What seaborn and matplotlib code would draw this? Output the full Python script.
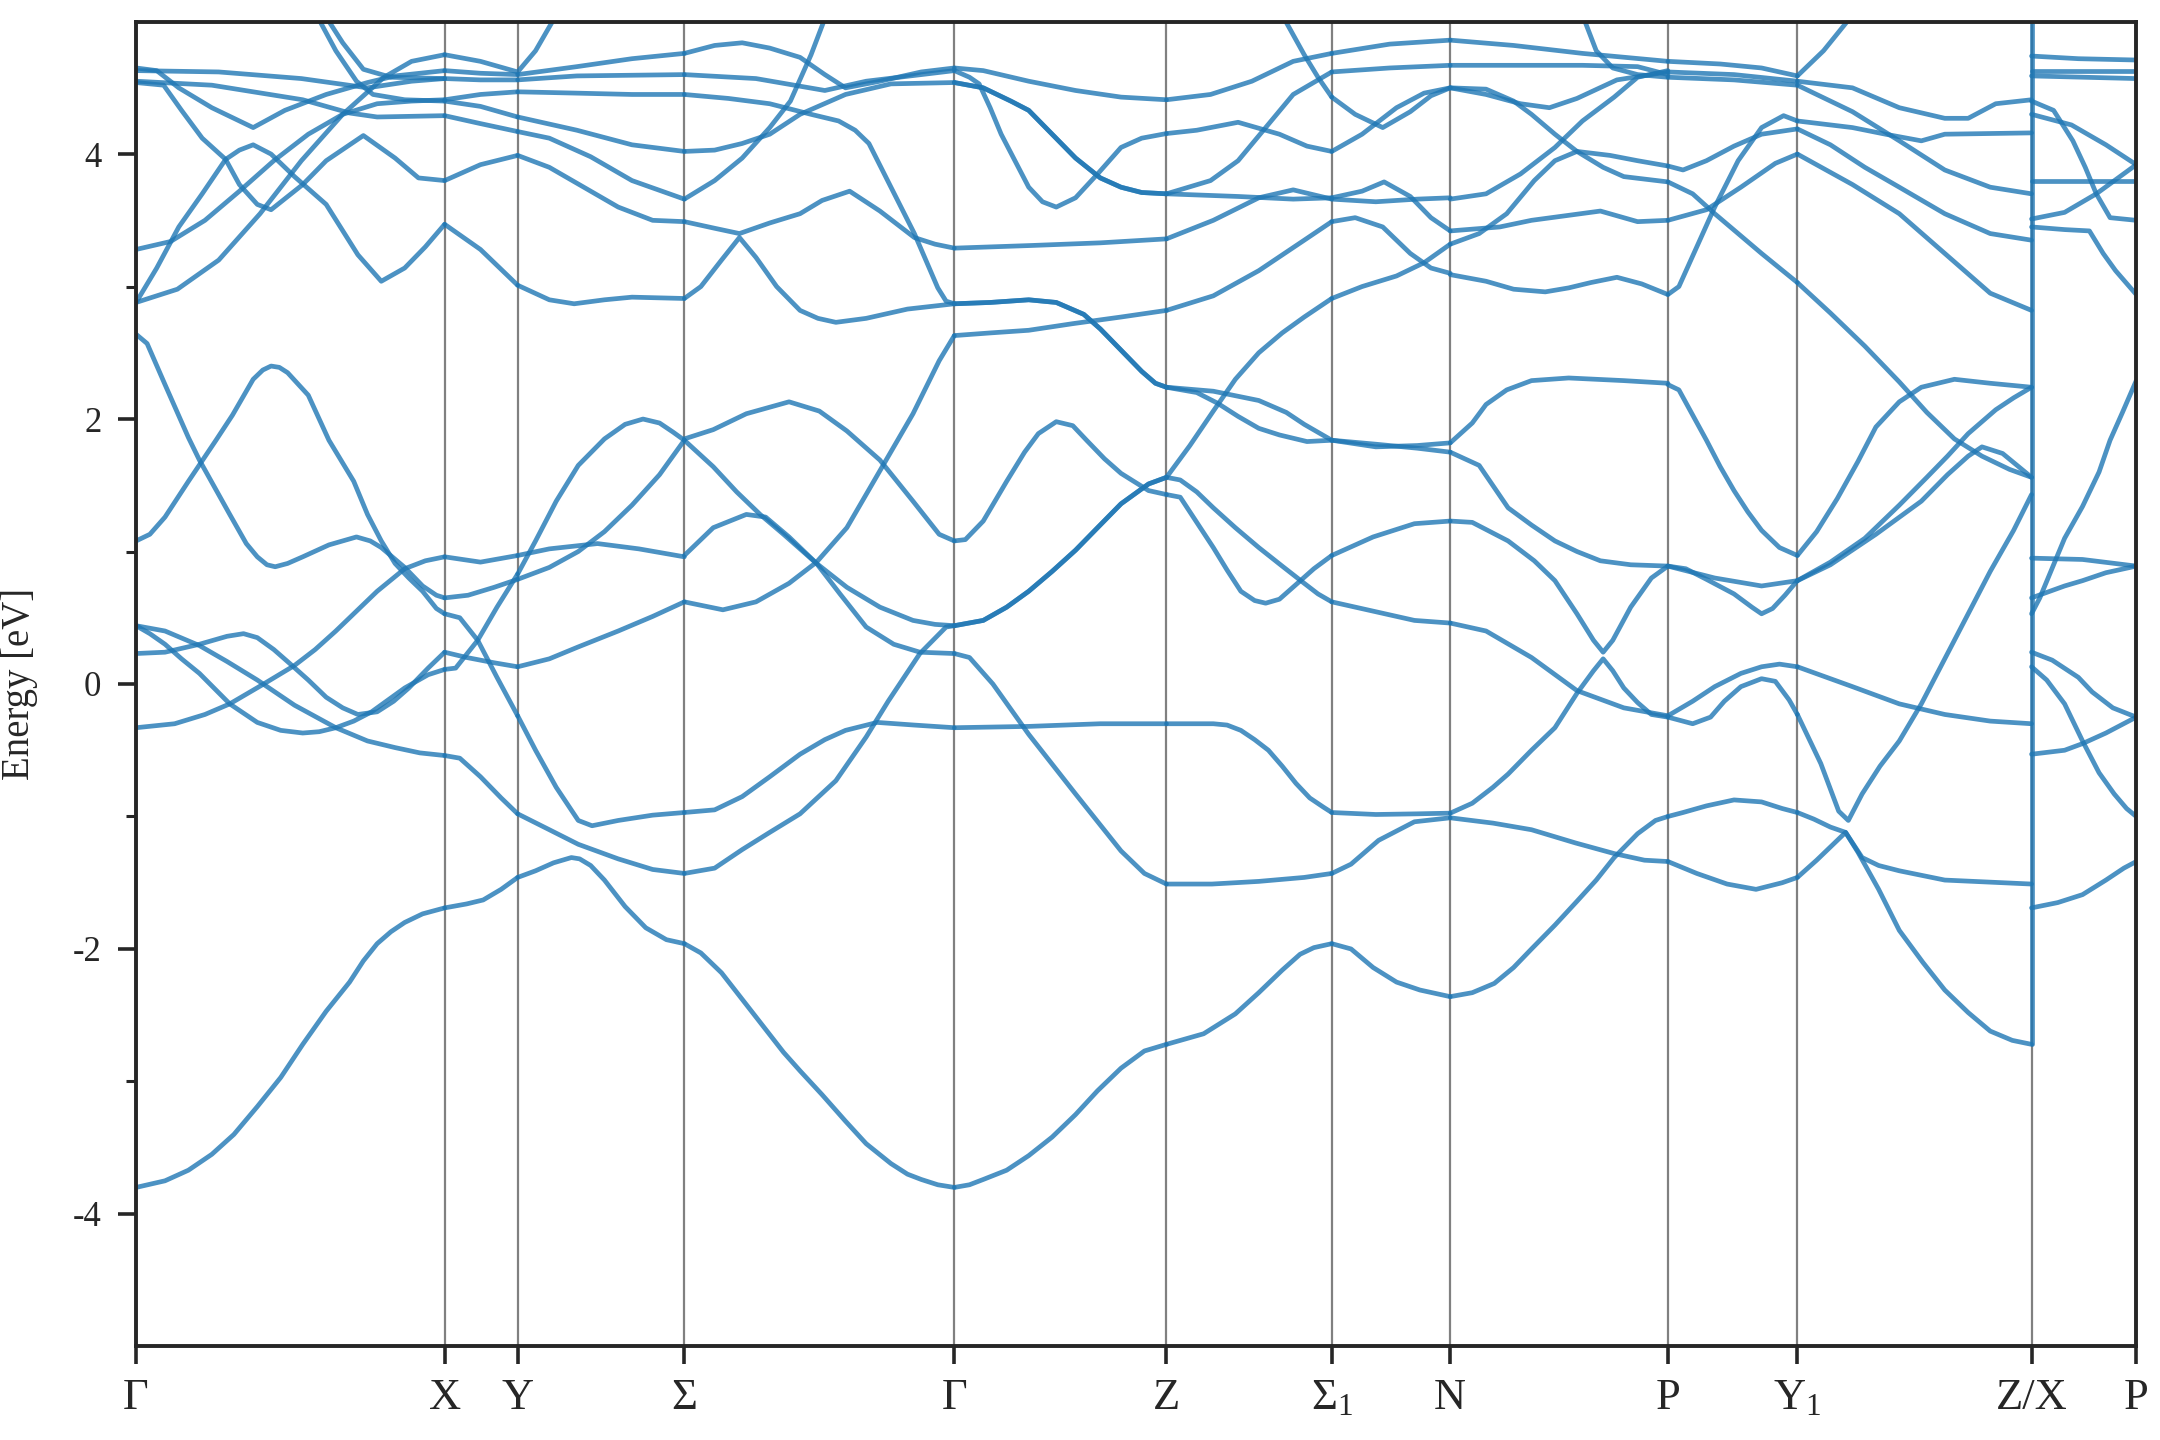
import pandas as pd
import seaborn as sns
import matplotlib.pyplot as plt

sns.set_style('ticks')
plt.rcParams['font.family'] = ['Liberation Serif', 'DejaVu Serif']
plt.rcParams['mathtext.fontset'] = 'stix'
plt.rcParams['axes.unicode_minus'] = False

# high symmetry points along the path (path length, arbitrary units)
kpoints = [0, 224, 277, 398, 594, 748, 868, 954, 1112, 1206, 1376, 1452]
klabels = ['Γ', 'X', 'Y', 'Σ', 'Γ', 'Z', r'$\mathregular{Σ_1}$', 'N', 'P',
           r'$\mathregular{Y_1}$', 'Z/X', 'P']

# bands, one list of (k, E[eV]) per line and path segment
seg_G_X = [
    [(0, -3.80), (21, -3.75), (38, -3.67), (55, -3.55), (71, -3.40), (88, -3.19), (105, -2.97), (121, -2.72), (138, -2.47), (155, -2.25), (165, -2.09), (175, -1.96), (185, -1.87), (195, -1.80), (208, -1.735), (224, -1.69)],
    [(0, -0.33), (28, -0.30), (50, -0.23), (68, -0.15), (91, -0.01), (115, 0.14), (130, 0.26), (145, 0.40), (160, 0.55), (175, 0.70), (195, 0.87), (210, 0.93), (224, 0.96)],
    [(0, 0.23), (21, 0.24), (46, 0.30), (66, 0.36), (78, 0.38), (88, 0.35), (100, 0.26), (111, 0.16), (125, 0.03), (138, -0.10), (150, -0.18), (161, -0.23), (175, -0.21), (187, -0.13), (198, -0.03), (212, 0.12), (224, 0.24)],
    [(0, 0.44), (21, 0.40), (46, 0.29), (66, 0.17), (88, 0.03), (115, -0.16), (145, -0.33), (168, -0.43), (188, -0.48), (206, -0.52), (224, -0.54)],
    [(0, 0.44), (10, 0.38), (21, 0.30), (33, 0.19), (46, 0.08), (68, -0.15), (88, -0.29), (105, -0.35), (121, -0.37), (133, -0.36), (145, -0.33), (158, -0.28), (171, -0.21), (183, -0.12), (195, -0.03), (212, 0.07), (224, 0.11)],
    [(0, 1.08), (10, 1.13), (21, 1.26), (38, 1.53), (58, 1.84), (70, 2.03), (85, 2.30), (92, 2.37), (98, 2.40), (104, 2.39), (110, 2.35), (125, 2.18), (140, 1.84), (158, 1.53), (168, 1.28), (178, 1.08), (188, 0.91), (198, 0.80), (208, 0.70), (218, 0.57), (224, 0.53)],
    [(0, 2.64), (8, 2.57), (21, 2.26), (38, 1.86), (46, 1.69), (68, 1.28), (80, 1.06), (88, 0.96), (95, 0.90), (101, 0.885), (110, 0.91), (121, 0.96), (140, 1.05), (160, 1.11), (170, 1.08), (178, 1.03), (195, 0.88), (208, 0.74), (218, 0.67), (224, 0.65)],
    [(0, 4.65), (15, 4.63), (31, 4.50), (55, 4.35), (85, 4.20), (108, 4.33), (138, 4.45), (168, 4.54), (188, 4.59), (224, 4.63)],
    [(0, 4.63), (60, 4.62), (120, 4.57), (168, 4.50), (200, 4.55), (224, 4.57)],
    [(0, 4.55), (55, 4.52), (121, 4.41), (155, 4.31), (175, 4.28), (224, 4.29)],
    [(0, 4.54), (20, 4.52), (33, 4.33), (48, 4.12), (65, 3.96), (75, 3.77), (88, 3.62), (98, 3.58), (121, 3.77), (138, 3.95), (165, 4.14), (188, 3.97), (205, 3.82), (224, 3.80)],
    [(0, 2.88), (15, 3.14), (31, 3.45), (48, 3.70), (65, 3.96), (75, 4.03), (85, 4.07), (98, 4.00), (115, 3.83), (138, 3.62), (161, 3.24), (178, 3.04), (195, 3.14), (210, 3.30), (224, 3.47)],
    [(0, 2.88), (30, 2.98), (60, 3.20), (90, 3.55), (120, 3.95), (150, 4.30), (180, 4.58), (200, 4.70), (224, 4.75)],
    [(0, 3.28), (25, 3.34), (50, 3.50), (75, 3.72), (100, 3.95), (125, 4.15), (150, 4.30), (175, 4.38), (200, 4.40), (224, 4.41)],
    [(131, 5.05), (145, 4.78), (160, 4.55), (172, 4.45), (195, 4.41), (224, 4.40)],
    [(137, 5.05), (150, 4.84), (165, 4.64), (185, 4.58), (224, 4.57)],
]

seg_X_Y = [
    [(224, -1.69), (240, -1.66), (252, -1.63), (265, -1.55), (277, -1.46)],
    [(224, -0.54), (235, -0.56), (250, -0.70), (265, -0.86), (277, -0.98)],
    [(224, 0.53), (235, 0.50), (248, 0.33), (262, 0.05), (277, -0.24)],
    [(224, 0.11), (232, 0.12), (248, 0.33), (262, 0.58), (277, 0.83)],
    [(224, 0.24), (240, 0.20), (260, 0.16), (277, 0.13)],
    [(224, 0.65), (241, 0.67), (260, 0.73), (277, 0.79)],
    [(224, 0.96), (250, 0.92), (277, 0.97)],
    [(224, 3.47), (250, 3.28), (277, 3.01)],
    [(224, 3.80), (250, 3.92), (277, 3.99)],
    [(224, 4.29), (250, 4.23), (277, 4.17)],
    [(224, 4.40), (250, 4.36), (277, 4.28)],
    [(224, 4.41), (250, 4.45), (277, 4.47)],
    [(224, 4.57), (250, 4.56), (277, 4.56)],
    [(224, 4.63), (250, 4.61), (277, 4.60)],
    [(224, 4.75), (250, 4.70), (277, 4.62), (290, 4.78), (305, 5.05)],
]

seg_Y_S = [
    [(277, -1.46), (290, -1.41), (303, -1.35), (316, -1.31), (322, -1.32), (330, -1.37), (340, -1.48), (355, -1.68), (370, -1.84), (385, -1.93), (398, -1.96)],
    [(277, -0.98), (300, -1.10), (321, -1.21), (350, -1.32), (375, -1.40), (398, -1.43)],
    [(277, -0.24), (290, -0.50), (305, -0.78), (321, -1.03), (331, -1.07), (350, -1.03), (375, -0.99), (398, -0.97)],
    [(277, 0.13), (300, 0.19), (321, 0.28), (350, 0.40), (375, 0.51), (398, 0.62)],
    [(277, 0.79), (300, 0.88), (321, 1.00), (340, 1.15), (360, 1.35), (380, 1.58), (398, 1.84)],
    [(277, 0.83), (290, 1.08), (305, 1.38), (321, 1.65), (340, 1.85), (355, 1.96), (368, 2.00), (380, 1.97), (390, 1.90), (398, 1.84)],
    [(277, 0.97), (300, 1.02), (335, 1.06), (365, 1.02), (398, 0.96)],
    [(277, 3.01), (300, 2.90), (318, 2.87), (340, 2.90), (360, 2.92), (398, 2.91)],
    [(277, 3.99), (300, 3.90), (325, 3.75), (350, 3.60), (375, 3.50), (398, 3.49)],
    [(277, 4.17), (300, 4.12), (330, 3.98), (360, 3.80), (398, 3.66)],
    [(277, 4.28), (320, 4.18), (360, 4.07), (398, 4.02)],
    [(277, 4.47), (320, 4.46), (360, 4.45), (398, 4.45)],
    [(277, 4.56), (320, 4.59), (398, 4.60)],
    [(277, 4.60), (320, 4.66), (360, 4.72), (398, 4.76)],
]

seg_S_G = [
    [(398, -1.96), (410, -2.03), (425, -2.18), (440, -2.38), (455, -2.58), (470, -2.78), (482, -2.92), (498, -3.10), (515, -3.30), (530, -3.47), (548, -3.62), (560, -3.70), (570, -3.74), (582, -3.78), (594, -3.80)],
    [(398, -0.97), (420, -0.95), (440, -0.85), (460, -0.70), (482, -0.53), (500, -0.42), (515, -0.35), (538, -0.29), (565, -0.31), (594, -0.33)],
    [(398, -1.43), (420, -1.39), (440, -1.25), (460, -1.12), (482, -0.98), (508, -0.73), (530, -0.40), (546, -0.13), (569, 0.23), (588, 0.43), (594, 0.44)],
    [(398, 1.85), (419, 1.92), (443, 2.04), (474, 2.13), (496, 2.06), (516, 1.91), (540, 1.69), (564, 1.38), (583, 1.13), (594, 1.08)],
    [(398, 1.84), (419, 1.64), (436, 1.45), (453, 1.28), (470, 1.13), (494, 0.91), (516, 0.73), (540, 0.58), (564, 0.48), (580, 0.45), (594, 0.44)],
    [(398, 0.97), (419, 1.18), (443, 1.28), (457, 1.26), (474, 1.11), (494, 0.91), (511, 0.68), (530, 0.43), (550, 0.30), (569, 0.24), (594, 0.23)],
    [(398, 0.62), (426, 0.56), (450, 0.62), (474, 0.76), (494, 0.92), (516, 1.18), (540, 1.61), (564, 2.04), (583, 2.44), (594, 2.63)],
    [(398, 2.91), (410, 3.00), (425, 3.20), (438, 3.37), (450, 3.22), (465, 3.00), (482, 2.82), (495, 2.76), (508, 2.73), (530, 2.76), (560, 2.83), (594, 2.87)],
    [(398, 3.49), (420, 3.44), (438, 3.40), (460, 3.48), (482, 3.55), (498, 3.65), (518, 3.72), (540, 3.57), (565, 3.37), (580, 3.32), (594, 3.29)],
    [(398, 4.45), (430, 4.42), (460, 4.38), (490, 4.30), (510, 4.25), (522, 4.18), (532, 4.08), (548, 3.75), (565, 3.40), (582, 2.99), (588, 2.89), (594, 2.87)],
    [(398, 4.02), (420, 4.03), (440, 4.08), (460, 4.15), (482, 4.30), (515, 4.45), (548, 4.53), (594, 4.54)],
    [(398, 3.66), (420, 3.80), (440, 3.97), (460, 4.20), (475, 4.40), (490, 4.75), (501, 5.05)],
    [(398, 4.76), (420, 4.82), (440, 4.84), (460, 4.80), (482, 4.73), (500, 4.60), (515, 4.50), (540, 4.55), (570, 4.62), (594, 4.65)],
    [(398, 4.60), (450, 4.57), (500, 4.48), (530, 4.55), (594, 4.63)],
]

seg_G_Z = [
    [(594, -3.80), (605, -3.78), (615, -3.74), (632, -3.67), (648, -3.56), (665, -3.42), (682, -3.25), (698, -3.07), (715, -2.90), (732, -2.77), (748, -2.72)],
    [(594, -0.33), (648, -0.32), (700, -0.30), (748, -0.30)],
    [(594, 0.23), (605, 0.20), (622, 0.00), (648, -0.38), (682, -0.83), (715, -1.26), (732, -1.43), (748, -1.51)],
    [(594, 0.44), (615, 0.48), (632, 0.58), (648, 0.70), (665, 0.85), (682, 1.01), (698, 1.18), (715, 1.36), (735, 1.51), (748, 1.56)],
    [(594, 0.44), (615, 0.48), (632, 0.58), (648, 0.70), (665, 0.85), (682, 1.01), (698, 1.18), (715, 1.36), (735, 1.51), (748, 1.56)],
    [(594, 1.08), (602, 1.09), (615, 1.23), (632, 1.53), (645, 1.75), (655, 1.89), (668, 1.98), (680, 1.95), (690, 1.84), (703, 1.70), (715, 1.59), (735, 1.46), (748, 1.43)],
    [(594, 2.63), (620, 2.65), (648, 2.67), (680, 2.72), (715, 2.77), (748, 2.82)],
    [(594, 2.87), (620, 2.88), (648, 2.90), (668, 2.88), (688, 2.79), (700, 2.68), (715, 2.52), (730, 2.36), (740, 2.27), (748, 2.24)],
    [(594, 2.87), (620, 2.88), (648, 2.90), (668, 2.88), (688, 2.79), (700, 2.68), (715, 2.52), (730, 2.36), (740, 2.27), (748, 2.24)],
    [(594, 3.29), (650, 3.31), (700, 3.33), (748, 3.36)],
    [(594, 4.54), (615, 4.50), (635, 4.40), (648, 4.33), (665, 4.15), (682, 3.97), (700, 3.82), (715, 3.75), (730, 3.71), (748, 3.70)],
    [(594, 4.54), (615, 4.50), (635, 4.40), (648, 4.33), (665, 4.15), (682, 3.97), (700, 3.82), (715, 3.75), (730, 3.71), (748, 3.70)],
    [(594, 4.65), (615, 4.63), (648, 4.55), (682, 4.48), (715, 4.43), (748, 4.41)],
    [(594, 4.63), (605, 4.58), (612, 4.53), (620, 4.35), (628, 4.15), (638, 3.95), (648, 3.75), (658, 3.64), (668, 3.60), (682, 3.67), (698, 3.85), (715, 4.05), (730, 4.12), (748, 4.155)],
]

seg_Z_S1 = [
    [(748, -2.72), (775, -2.64), (798, -2.49), (815, -2.33), (832, -2.16), (845, -2.04), (855, -1.99), (868, -1.96)],
    [(748, -1.51), (781, -1.51), (815, -1.49), (848, -1.46), (868, -1.43)],
    [(748, -0.30), (782, -0.30), (792, -0.31), (802, -0.35), (812, -0.42), (822, -0.50), (832, -0.62), (842, -0.75), (852, -0.86), (862, -0.93), (868, -0.97)],
    [(748, 1.56), (758, 1.54), (770, 1.45), (782, 1.33), (798, 1.18), (815, 1.03), (832, 0.89), (848, 0.76), (858, 0.68), (868, 0.62)],
    [(748, 1.56), (765, 1.80), (782, 2.06), (798, 2.30), (815, 2.50), (832, 2.65), (848, 2.77), (868, 2.91)],
    [(748, 1.43), (758, 1.41), (770, 1.22), (782, 1.03), (792, 0.86), (802, 0.70), (812, 0.63), (820, 0.61), (830, 0.64), (842, 0.75), (855, 0.87), (868, 0.97)],
    [(748, 2.24), (782, 2.21), (815, 2.14), (835, 2.05), (848, 1.96), (868, 1.84)],
    [(748, 2.24), (770, 2.20), (785, 2.12), (800, 2.02), (815, 1.93), (830, 1.88), (850, 1.83), (868, 1.84)],
    [(748, 2.82), (782, 2.93), (815, 3.12), (848, 3.35), (868, 3.49)],
    [(748, 3.36), (782, 3.50), (815, 3.67), (840, 3.73), (868, 3.66)],
    [(748, 3.70), (800, 3.68), (840, 3.66), (868, 3.67)],
    [(748, 3.70), (780, 3.80), (800, 3.95), (820, 4.20), (840, 4.45), (868, 4.62)],
    [(748, 4.155), (770, 4.18), (800, 4.24), (830, 4.15), (850, 4.06), (868, 4.02)],
    [(748, 4.41), (780, 4.45), (810, 4.55), (840, 4.70), (868, 4.76)],
    [(832, 5.05), (848, 4.75), (858, 4.58), (868, 4.43)],
]

seg_S1_N = [
    [(868, -1.96), (882, -2.00), (898, -2.14), (915, -2.25), (932, -2.31), (954, -2.36)],
    [(868, -1.43), (882, -1.36), (902, -1.18), (928, -1.04), (954, -1.01)],
    [(868, -0.97), (900, -0.985), (930, -0.98), (954, -0.975)],
    [(868, 0.62), (898, 0.55), (928, 0.48), (954, 0.46)],
    [(868, 0.97), (898, 1.11), (928, 1.21), (954, 1.23)],
    [(868, 1.84), (900, 1.81), (930, 1.78), (954, 1.75)],
    [(868, 1.84), (900, 1.79), (930, 1.80), (954, 1.82)],
    [(868, 2.91), (890, 3.00), (915, 3.08), (935, 3.18), (954, 3.32)],
    [(868, 3.49), (885, 3.52), (905, 3.45), (925, 3.25), (940, 3.14), (954, 3.10)],
    [(868, 3.67), (890, 3.72), (906, 3.79), (925, 3.68), (940, 3.52), (954, 3.42)],
    [(868, 3.66), (900, 3.64), (930, 3.66), (954, 3.67)],
    [(868, 4.02), (890, 4.15), (915, 4.35), (935, 4.46), (954, 4.50)],
    [(868, 4.43), (885, 4.30), (905, 4.20), (925, 4.32), (940, 4.44), (954, 4.50)],
    [(868, 4.62), (910, 4.65), (954, 4.67)],
    [(868, 4.76), (910, 4.83), (954, 4.86)],
]

seg_N_P = [
    [(954, -2.36), (970, -2.33), (986, -2.26), (1000, -2.14), (1013, -2.00), (1030, -1.82), (1046, -1.64), (1060, -1.48), (1073, -1.31), (1090, -1.13), (1103, -1.03), (1112, -1.00)],
    [(954, -1.01), (985, -1.05), (1013, -1.10), (1045, -1.20), (1073, -1.28), (1095, -1.33), (1112, -1.34)],
    [(954, -0.975), (970, -0.90), (985, -0.78), (996, -0.68), (1013, -0.50), (1030, -0.33), (1046, -0.07), (1058, 0.10), (1065, 0.19), (1072, 0.10), (1080, -0.03), (1090, -0.14), (1100, -0.23), (1112, -0.25)],
    [(954, 0.46), (980, 0.40), (1013, 0.20), (1046, -0.05), (1080, -0.18), (1112, -0.24)],
    [(954, 1.23), (970, 1.22), (996, 1.08), (1015, 0.93), (1030, 0.78), (1046, 0.53), (1058, 0.33), (1065, 0.24), (1072, 0.33), (1085, 0.58), (1100, 0.80), (1112, 0.89)],
    [(954, 1.75), (975, 1.65), (996, 1.33), (1013, 1.20), (1030, 1.08), (1046, 1.00), (1063, 0.93), (1085, 0.90), (1112, 0.89)],
    [(954, 1.82), (970, 1.97), (980, 2.11), (995, 2.22), (1013, 2.29), (1040, 2.31), (1080, 2.29), (1112, 2.27)],
    [(954, 3.09), (980, 3.04), (1000, 2.98), (1023, 2.96), (1040, 2.99), (1056, 3.03), (1075, 3.07), (1093, 3.02), (1112, 2.94)],
    [(954, 3.32), (975, 3.40), (995, 3.55), (1015, 3.80), (1030, 3.95), (1046, 4.02), (1070, 3.99), (1090, 3.95), (1112, 3.91)],
    [(954, 3.42), (990, 3.45), (1013, 3.50), (1063, 3.57), (1090, 3.49), (1112, 3.50)],
    [(954, 3.66), (980, 3.70), (1005, 3.85), (1030, 4.05), (1050, 4.25), (1073, 4.43), (1090, 4.58), (1112, 4.63)],
    [(954, 4.50), (980, 4.49), (1000, 4.40), (1013, 4.30), (1030, 4.15), (1046, 4.02), (1065, 3.90), (1080, 3.83), (1112, 3.79)],
    [(954, 4.50), (980, 4.45), (1005, 4.38), (1026, 4.35), (1046, 4.42), (1075, 4.56), (1112, 4.62)],
    [(954, 4.67), (1000, 4.67), (1050, 4.67), (1090, 4.66), (1112, 4.60)],
    [(954, 4.86), (1000, 4.82), (1050, 4.76), (1112, 4.70)],
    [(1050, 5.05), (1060, 4.78), (1072, 4.65), (1090, 4.60), (1112, 4.58)],
]

seg_P_Y1 = [
    [(1112, -1.00), (1123, -0.97), (1140, -0.92), (1160, -0.875), (1180, -0.89), (1195, -0.94), (1206, -0.97)],
    [(1112, -1.34), (1133, -1.43), (1155, -1.51), (1176, -1.55), (1195, -1.50), (1206, -1.46)],
    [(1112, -0.25), (1130, -0.30), (1143, -0.25), (1153, -0.13), (1165, -0.02), (1180, 0.04), (1190, 0.02), (1200, -0.12), (1206, -0.23)],
    [(1112, -0.24), (1130, -0.13), (1146, -0.02), (1165, 0.08), (1180, 0.13), (1193, 0.15), (1206, 0.13)],
    [(1112, 0.89), (1125, 0.87), (1140, 0.79), (1160, 0.68), (1173, 0.58), (1180, 0.53), (1188, 0.57), (1197, 0.67), (1206, 0.78)],
    [(1112, 0.89), (1146, 0.80), (1180, 0.74), (1206, 0.78)],
    [(1112, 2.26), (1120, 2.22), (1130, 2.03), (1140, 1.84), (1150, 1.64), (1160, 1.46), (1170, 1.30), (1180, 1.16), (1193, 1.03), (1206, 0.97)],
    [(1112, 2.94), (1120, 3.00), (1133, 3.30), (1146, 3.60), (1163, 3.95), (1180, 4.20), (1196, 4.29), (1206, 4.25)],
    [(1112, 3.91), (1123, 3.88), (1140, 3.95), (1160, 4.06), (1180, 4.15), (1206, 4.19)],
    [(1112, 3.50), (1140, 3.58), (1165, 3.75), (1190, 3.93), (1206, 4.00)],
    [(1112, 3.79), (1130, 3.70), (1146, 3.55), (1180, 3.25), (1206, 3.03)],
    [(1112, 4.70), (1150, 4.68), (1180, 4.65), (1206, 4.59)],
    [(1112, 4.62), (1160, 4.60), (1206, 4.55)],
    [(1112, 4.58), (1160, 4.56), (1206, 4.52)],
]

seg_Y1_ZX = [
    [(1206, -0.97), (1218, -1.02), (1230, -1.08), (1241, -1.12), (1250, -1.27), (1265, -1.55), (1280, -1.86), (1297, -2.10), (1313, -2.31), (1330, -2.48), (1346, -2.62), (1362, -2.69), (1376, -2.72)],
    [(1206, -1.46), (1220, -1.33), (1233, -1.20), (1241, -1.12), (1253, -1.31), (1265, -1.37), (1280, -1.41), (1313, -1.48), (1376, -1.51)],
    [(1206, -0.23), (1223, -0.60), (1236, -0.96), (1243, -1.03), (1253, -0.83), (1266, -0.62), (1280, -0.43), (1296, -0.15), (1313, 0.19), (1330, 0.53), (1346, 0.85), (1363, 1.16), (1376, 1.43)],
    [(1206, 0.13), (1246, -0.02), (1280, -0.15), (1313, -0.23), (1346, -0.28), (1376, -0.30)],
    [(1206, 0.78), (1230, 0.90), (1263, 1.13), (1296, 1.38), (1315, 1.58), (1330, 1.72), (1340, 1.79), (1355, 1.74), (1376, 1.56)],
    [(1206, 0.78), (1230, 0.92), (1255, 1.10), (1280, 1.35), (1300, 1.56), (1315, 1.72), (1330, 1.89), (1350, 2.07), (1363, 2.16), (1376, 2.24)],
    [(1206, 0.97), (1220, 1.15), (1235, 1.40), (1250, 1.68), (1263, 1.94), (1280, 2.13), (1296, 2.24), (1320, 2.30), (1346, 2.27), (1376, 2.24)],
    [(1206, 3.03), (1230, 2.80), (1255, 2.55), (1280, 2.28), (1300, 2.05), (1320, 1.85), (1340, 1.72), (1360, 1.62), (1376, 1.56)],
    [(1206, 4.00), (1246, 3.77), (1280, 3.55), (1313, 3.25), (1346, 2.95), (1376, 2.82)],
    [(1206, 4.19), (1230, 4.07), (1255, 3.90), (1280, 3.75), (1313, 3.55), (1346, 3.40), (1376, 3.35)],
    [(1206, 4.25), (1246, 4.20), (1270, 4.15), (1296, 4.10), (1313, 4.15), (1376, 4.16)],
    [(1206, 4.52), (1246, 4.32), (1280, 4.10), (1313, 3.88), (1346, 3.75), (1376, 3.70)],
    [(1206, 4.55), (1246, 4.50), (1280, 4.35), (1313, 4.27), (1330, 4.27), (1350, 4.38), (1376, 4.41)],
    [(1206, 4.59), (1225, 4.78), (1246, 5.05)],
]

seg_ZX_P = [
    [(1376, -1.69), (1395, -1.65), (1413, -1.59), (1430, -1.48), (1443, -1.39), (1452, -1.34)],
    [(1376, -0.53), (1400, -0.50), (1413, -0.45), (1430, -0.37), (1452, -0.25)],
    [(1376, 0.13), (1387, 0.03), (1400, -0.15), (1413, -0.43), (1425, -0.67), (1436, -0.83), (1445, -0.94), (1452, -1.00)],
    [(1376, 0.24), (1391, 0.18), (1410, 0.05), (1420, -0.06), (1435, -0.18), (1452, -0.25)],
    [(1376, 0.53), (1382, 0.65), (1390, 0.85), (1400, 1.10), (1413, 1.34), (1425, 1.60), (1433, 1.84), (1442, 2.05), (1452, 2.29)],
    [(1376, 0.65), (1400, 0.74), (1413, 0.78), (1430, 0.84), (1452, 0.89)],
    [(1376, 0.95), (1413, 0.94), (1452, 0.89)],
    [(1376, 3.45), (1400, 3.43), (1418, 3.42), (1428, 3.25), (1437, 3.12), (1452, 2.94)],
    [(1376, 3.51), (1400, 3.56), (1423, 3.70), (1452, 3.92)],
    [(1376, 3.80), (1452, 3.80)],
    [(1376, 4.30), (1405, 4.22), (1430, 4.07), (1452, 3.92)],
    [(1376, 4.40), (1392, 4.33), (1406, 4.10), (1415, 3.90), (1423, 3.70), (1433, 3.52), (1452, 3.50)],
    [(1376, 4.59), (1452, 4.57)],
    [(1376, 4.63), (1452, 4.63)],
    [(1376, 4.74), (1410, 4.72), (1452, 4.71)],
]

segments = [seg_G_X, seg_X_Y, seg_Y_S, seg_S_G, seg_G_Z, seg_Z_S1,
            seg_S1_N, seg_N_P, seg_P_Y1, seg_Y1_ZX, seg_ZX_P]

rows = []
n = 0
for seg in segments:
    for band in seg:
        for k, e in band:
            rows.append((n, k, e))
        n += 1
df = pd.DataFrame(rows, columns=['band', 'k', 'E'])

fig = plt.figure(figsize=(10.8, 7.2), dpi=200)
ax = fig.add_axes([0.063, 0.065, 0.926, 0.92])

for k in kpoints[1:-1]:
    ax.axvline(k, color='0.5', lw=0.8, zorder=1)

sns.lineplot(data=df, x='k', y='E', units='band', estimator=None, sort=False,
             color='#1f77b4', alpha=0.8, lw=1.7, ax=ax, legend=False)

# bands jump at the Z/X break
k_zx = kpoints[10]
ax.plot([k_zx, k_zx], [seg_Y1_ZX[0][-1][1], 5.05], color='#1f77b4', alpha=0.8, lw=1.7)

ax.set_xlim(kpoints[0], kpoints[-1])
ax.set_ylim(-5, 5)
ax.set_xticks(kpoints)
ax.set_xticklabels(klabels, fontsize=16)
ax.set_yticks([-4, -2, 0, 2, 4])
ax.set_yticks([-3, -1, 1, 3], minor=True)
ax.set_xlabel('')
ax.set_ylabel('Energy [eV]', fontsize=14)
ax.yaxis.set_label_coords(-0.049, 0.5)
ax.tick_params(which='major', direction='out', length=6.5, width=1.3, pad=6)
ax.tick_params(axis='y', which='major', labelsize=12.5)
ax.tick_params(axis='x', which='major', pad=5)
ax.tick_params(which='minor', direction='out', length=3.6, width=1.1)
for s in ax.spines.values():
    s.set_linewidth(1.4)

fig.savefig('out.png', dpi=200)
